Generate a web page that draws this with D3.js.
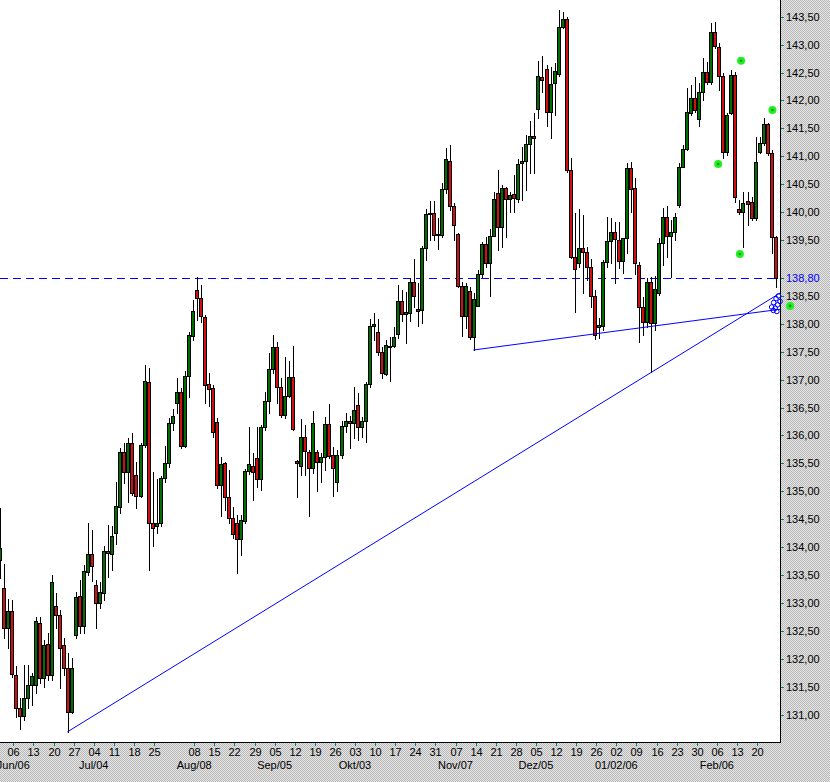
<!DOCTYPE html>
<html><head><meta charset="utf-8">
<script src="https://cdn.jsdelivr.net/npm/d3@7"></script>
<style>body{margin:0;padding:0;background:#fff}svg{display:block}</style>
</head><body>
<svg id="chart" width="830" height="782"></svg>
<script>
// ---- data (index 0 is the partly hidden candle at the left edge) ----
const openVals = [
133.77,133.27,132.55,132.85,131.71,131.12,130.97,131.30,131.53,131.53,
132.64,131.66,132.26,131.71,132.94,132.78,132.24,131.84,131.04,132.42,
133.12,132.58,133.55,133.88,133.32,133.00,133.18,133.93,133.88,134.26,
134.71,135.70,135.34,135.87,135.29,134.91,135.83,136.95,134.43,134.37,
134.44,135.24,135.51,136.23,136.58,136.77,135.81,137.06,137.78,138.60,
138.47,138.12,136.92,136.85,136.24,135.11,135.51,134.89,134.53,134.43,
134.14,134.46,135.36,135.45,135.60,135.22,136.15,136.61,137.19,137.58,
136.86,136.36,136.70,137.04,135.54,135.45,135.97,135.70,135.42,135.70,
135.52,135.61,136.21,135.65,135.16,135.65,136.17,136.26,136.23,136.54,
136.15,136.26,136.92,137.96,137.85,137.49,137.10,137.58,137.60,137.82,
138.40,138.18,138.20,138.74,138.27,138.25,139.36,139.97,139.99,139.61,
139.59,140.42,140.91,140.11,139.61,138.67,138.14,138.58,137.76,138.32,
138.89,139.43,139.09,139.57,140.34,139.73,140.43,140.24,140.33,140.24,
140.88,140.91,141.22,141.36,141.85,142.42,142.56,141.79,142.31,142.47,
143.31,143.46,140.75,139.20,139.09,139.36,139.29,139.02,138.50,137.94,
137.96,139.11,139.48,139.64,139.50,139.12,139.54,140.79,140.43,139.05,
138.30,138.03,138.75,138.02,138.55,139.45,139.91,139.57,139.64,140.13,
140.81,141.13,141.78,142.04,141.67,142.15,142.51,142.33,143.23,142.96,
142.44,141.08,141.78,142.46,140.06,140.00,140.20,140.18,139.89,141.08,
141.24,141.58,141.06,139.55];
const highVals = [
134.70,133.70,133.07,133.05,131.87,131.30,131.89,131.89,131.75,132.74,
132.74,132.33,132.46,133.50,133.18,132.87,132.38,132.10,132.01,133.19,
133.41,133.68,134.43,134.30,133.41,133.37,134.02,134.39,134.37,135.16,
135.78,135.87,135.96,136.05,135.52,135.87,137.26,137.21,135.34,135.22,
135.27,135.81,136.31,136.47,137.03,136.85,137.15,137.85,138.43,138.83,
138.69,138.16,137.12,136.90,136.31,135.61,135.52,135.38,134.71,134.57,
134.57,135.40,136.15,135.69,136.15,136.19,136.77,137.48,137.80,137.67,
137.03,137.40,137.33,137.60,135.56,136.29,136.19,135.74,136.43,135.74,
135.69,136.33,136.56,135.79,135.74,136.26,136.41,136.34,136.86,136.76,
136.33,136.95,138.09,138.20,138.09,137.58,137.71,137.76,137.94,138.69,
138.60,138.57,138.82,139.16,138.73,139.39,140.06,140.20,140.20,139.90,
140.52,141.15,141.20,140.16,139.63,138.75,138.73,138.66,138.55,138.96,
139.46,139.55,139.70,140.36,140.75,140.49,140.45,140.36,140.66,140.95,
141.17,141.38,141.63,141.78,142.71,142.80,142.64,142.60,142.67,143.62,
143.58,143.50,140.97,139.98,140.06,139.95,139.38,139.16,138.60,138.11,
139.14,139.91,139.90,139.82,139.82,139.54,140.88,140.90,140.61,139.11,
138.48,138.82,138.84,138.86,139.54,140.07,140.11,139.86,139.98,140.88,
141.20,142.22,142.28,142.42,142.31,142.76,142.69,143.39,143.41,143.03,
142.49,141.78,142.55,142.51,140.22,140.36,140.36,140.27,141.34,141.34,
141.69,141.60,141.11,139.57];
const lowVals = [
133.45,132.37,132.19,131.67,130.95,130.74,130.90,131.12,131.17,131.39,
131.57,131.49,131.62,131.62,132.56,131.48,131.71,130.68,131.03,132.38,
132.46,132.47,133.50,133.39,132.56,132.91,133.05,133.46,133.59,134.06,
134.61,135.15,134.80,134.93,134.70,134.89,135.79,133.59,134.02,134.25,
134.37,135.16,135.43,136.10,136.40,135.78,135.79,136.68,137.71,138.07,
138.03,136.58,136.52,135.97,135.06,134.55,134.66,134.44,134.16,133.54,
133.86,134.43,135.31,134.84,135.07,135.02,136.10,136.41,137.12,136.58,
136.33,136.31,136.68,136.10,134.89,135.29,135.29,134.55,135.33,135.00,
135.16,135.38,135.60,134.91,135.00,135.60,136.06,135.78,135.96,135.92,
135.97,135.88,136.86,137.71,137.44,137.03,137.08,136.97,137.58,137.74,
138.05,137.66,138.05,138.30,137.96,138.01,139.14,139.50,139.50,139.34,
139.56,140.34,140.04,139.50,138.66,137.78,137.93,137.73,137.53,138.32,
138.84,139.02,138.49,139.57,139.32,139.38,139.56,140.00,140.00,140.18,
140.22,140.40,140.70,140.70,141.69,142.15,141.54,141.33,141.74,142.44,
143.30,140.72,139.18,138.21,139.02,138.55,138.78,138.30,137.73,137.74,
137.89,139.02,139.09,138.73,139.00,138.91,139.27,140.00,138.89,137.67,
137.80,137.94,137.14,137.89,138.52,139.05,139.20,138.84,139.50,140.09,
140.81,141.11,141.74,141.79,141.54,142.01,142.30,142.30,142.94,142.19,
140.97,141.02,141.76,140.18,139.97,139.38,139.77,139.86,139.86,141.06,
141.20,141.02,139.27,138.66];
const closeVals = [
133.99,132.55,132.85,131.73,131.12,130.97,131.30,131.53,131.69,132.67,
131.66,132.24,131.71,133.37,132.78,132.20,131.84,131.04,131.84,133.10,
132.58,133.57,133.88,133.66,133.00,133.19,133.93,133.90,134.19,134.73,
135.70,135.34,135.87,134.97,134.91,135.83,136.97,134.44,134.34,134.44,
135.24,135.51,136.23,136.34,136.77,135.81,137.06,137.80,138.23,138.46,
138.14,136.90,136.83,136.06,135.11,135.49,134.89,134.53,134.23,134.14,
134.48,135.36,135.49,135.34,135.22,136.15,136.61,137.19,137.58,136.86,
136.36,136.70,137.04,136.12,135.51,135.97,135.72,135.42,136.23,135.52,
135.61,136.21,135.63,135.42,135.65,136.17,136.26,136.23,136.45,136.15,
136.26,136.92,137.96,138.00,137.49,137.12,137.62,137.60,137.76,138.40,
138.18,138.21,138.74,138.49,138.23,139.36,139.97,139.99,139.59,139.59,
140.42,140.95,140.11,139.77,138.67,138.14,138.67,137.76,138.44,138.89,
139.43,139.09,139.57,140.24,139.73,140.43,140.24,140.31,140.25,140.86,
140.91,141.22,141.36,141.33,142.44,142.37,141.79,142.30,142.53,143.31,
143.46,140.75,139.20,138.98,139.36,139.29,139.02,138.50,137.80,137.98,
139.11,139.48,139.64,139.52,139.12,139.54,140.79,140.42,139.09,138.30,
138.03,138.75,138.02,138.62,139.45,139.91,139.57,139.64,139.91,140.81,
141.13,141.79,142.04,141.83,142.15,142.51,142.33,143.23,142.98,142.44,
141.08,141.74,142.46,140.27,140.00,140.16,140.14,139.89,140.90,141.24,
141.58,141.06,139.55,138.82];

const weekLabels = ["06","13","20","27","04","11","18","25",null,"08","15","22","29",
  "05","12","19","26","03","10","17","24","31","07","14","21","28","05","12","19","26",
  "02","09","16","23","30","06","13","20"];
const monthLabels = ["Jun/06","Jul/04","Aug/08","Sep/05","Okt/03","Nov/07","Dez/05","01/02/06","Feb/06"];
const monthWeeks = [0,4,9,13,17,22,26,30,35];
const firstWeekIndex = 3.36;   // candle index of the first weekly tick
const daysPerWeek = 5;

// 139,00 is not shown in the reference (hidden by the 138,80 level label)
const yTickValues = [131,131.5,132,132.5,133,133.5,134,134.5,135,135.5,136,136.5,137,137.5,138,138.5,139.5,140,140.5,141,141.5,142,142.5,143,143.5];
const levelValue = 138.80;
const trendLong = [[16.8,130.69],[194.1,138.55]];
const trendShort = [[117.8,137.53],[194.1,138.26]];
const greenMarks = [[184.4,142.71],[192.2,141.83],[178.7,140.86],[184.1,139.25],[196.6,138.32]];
const blueLoops = [[192.0,138.30],[192.5,138.38],[193.1,138.45],[193.7,138.50],[192.9,138.28],
  [193.5,138.34],[194.1,138.40],[192.4,138.24],[193.3,138.22]];

// ---- layout ----
const W = 830, H = 782, plotR = 780, plotB = 742;
const svg = d3.select("#chart");
const defs = svg.append("defs");
const pat = defs.append("pattern").attr("id","chk").attr("width",2).attr("height",2).attr("patternUnits","userSpaceOnUse");
pat.append("rect").attr("width",2).attr("height",2).attr("fill","#e6e6e6");
pat.append("rect").attr("width",1).attr("height",1).attr("fill","#b8b8b8");
pat.append("rect").attr("x",1).attr("y",1).attr("width",1).attr("height",1).attr("fill","#b8b8b8");
defs.append("clipPath").attr("id","plotClip").append("rect").attr("width",plotR).attr("height",plotB);

svg.append("rect").attr("width",W).attr("height",H).attr("fill","url(#chk)");
svg.append("rect").attr("width",plotR).attr("height",plotB).attr("fill","#fff");

const n = openVals.length;
const x = d3.scaleLinear().domain([0, 1]).range([-0.2, 3.82]);
const y = d3.scaleLinear().domain([131, 143.5]).range([714.6, 16.7]);

const plot = svg.append("g").attr("clip-path","url(#plotClip)");

// level line
const levelY = Math.round(y(levelValue)) - 0.5;
plot.append("line").attr("x1",0).attr("x2",plotR)
  .attr("y1",levelY).attr("y2",levelY)
  .attr("stroke","#0000ff").attr("stroke-width",1).attr("stroke-dasharray","8,5")
  .attr("shape-rendering","crispEdges");

// candles
const candles = d3.range(n).map(i => ({i, o:openVals[i], h:highVals[i], l:lowVals[i], c:closeVals[i]}));
const cg = plot.append("g").attr("shape-rendering","crispEdges");
const g = cg.selectAll("g").data(candles).join("g");
g.append("line")
  .attr("x1", d => Math.round(x(d.i)) + 0.5).attr("x2", d => Math.round(x(d.i)) + 0.5)
  .attr("y1", d => Math.round(y(d.h))).attr("y2", d => Math.round(y(d.l)) + 1)
  .attr("stroke","#000").attr("stroke-width",1);
g.append("rect")
  .attr("x", d => Math.round(x(d.i)) - 1.5)
  .attr("y", d => Math.round(y(Math.max(d.o,d.c))) + 0.5)
  .attr("width", 3)
  .attr("height", d => Math.max(1, Math.round(y(Math.min(d.o,d.c))) - Math.round(y(Math.max(d.o,d.c)))))
  .attr("fill", d => d.c >= d.o ? "#006f00" : "#d01010")
  .attr("stroke","#000").attr("stroke-width",1);

// trend lines
[trendLong, trendShort].forEach(t => {
  plot.append("line")
    .attr("x1", x(t[0][0])).attr("y1", y(t[0][1]))
    .attr("x2", x(t[1][0])).attr("y2", y(t[1][1]))
    .attr("stroke","#0000ff").attr("stroke-width",1);
});

// axes frame
svg.append("line").attr("x1",plotR+0.5).attr("x2",plotR+0.5).attr("y1",0).attr("y2",plotB+1)
  .attr("stroke","#000").attr("stroke-width",1).attr("shape-rendering","crispEdges");
svg.append("line").attr("x1",0).attr("x2",plotR+1).attr("y1",plotB+0.5).attr("y2",plotB+0.5)
  .attr("stroke","#000").attr("stroke-width",1).attr("shape-rendering","crispEdges");

// right axis
const fmt = v => d3.format(".2f")(v).replace(".", ",");
const ya = svg.append("g").attr("font-family","'Liberation Sans', Arial, sans-serif").attr("font-size","11px");
yTickValues.forEach(v => {
  const yy = Math.round(y(v)) + 0.5;
  ya.append("line").attr("x1",781).attr("x2",784).attr("y1",yy).attr("y2",yy)
    .attr("stroke","#008080").attr("shape-rendering","crispEdges");
  ya.append("text").attr("x",786).attr("y",yy).attr("dy","0.35em").attr("fill","#000").text(fmt(v));
});
ya.append("line").attr("x1",781).attr("x2",784).attr("y1",levelY).attr("y2",levelY)
  .attr("stroke","#008080").attr("shape-rendering","crispEdges");
ya.append("text").attr("x",786).attr("y",levelY).attr("dy","0.35em")
  .attr("fill","#0000ff").text(fmt(levelValue));

// bottom axis
const xa = svg.append("g").attr("font-family","'Liberation Sans', Arial, sans-serif").attr("font-size","11px").attr("text-anchor","middle");
weekLabels.forEach((lab, k) => {
  if (lab === null) return;
  const xx = Math.round(x(firstWeekIndex + daysPerWeek * k)) + 0.5;
  xa.append("line").attr("x1",xx).attr("x2",xx).attr("y1",743).attr("y2",746)
    .attr("stroke","#008080").attr("shape-rendering","crispEdges");
  xa.append("text").attr("x",xx).attr("y",756).attr("fill","#000").text(lab);
});
monthLabels.forEach((lab, j) => {
  const xx = x(firstWeekIndex + daysPerWeek * monthWeeks[j]);
  xa.append("text").attr("x",xx).attr("y",769).attr("fill","#000").text(lab);
});

// markers
svg.append("g").selectAll("circle").data(blueLoops).join("circle")
  .attr("cx", d => x(d[0])).attr("cy", d => y(d[1])).attr("r", 2.3)
  .attr("fill","none").attr("stroke","#0000ff").attr("stroke-width",1);
const gm = svg.append("g").selectAll("g").data(greenMarks).join("g");
gm.append("circle").attr("cx", d => x(d[0])).attr("cy", d => y(d[1])).attr("r", 4).attr("fill","#22ee22");
gm.append("circle").attr("cx", d => x(d[0])).attr("cy", d => y(d[1])).attr("r", 1.3).attr("fill","#0a9a0a");
</script>
</body></html>
